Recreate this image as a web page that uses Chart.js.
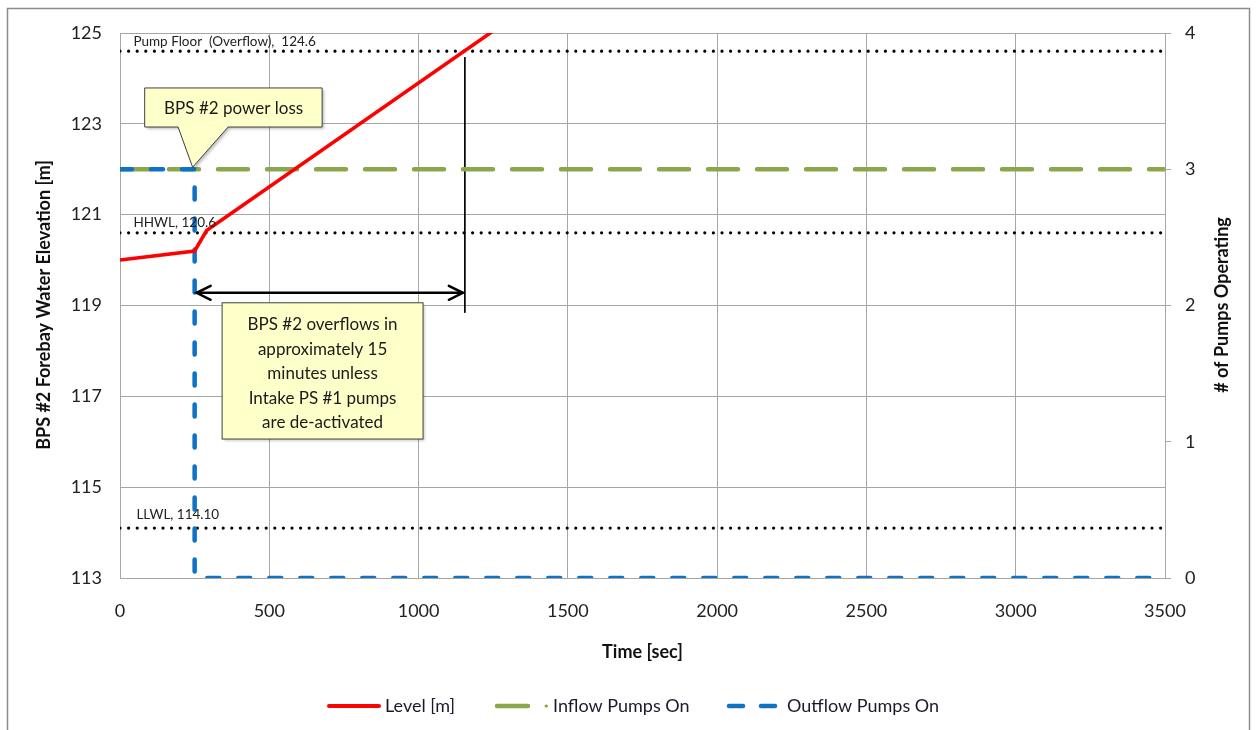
<!DOCTYPE html>
<html>
<head>
<meta charset="utf-8">
<script src="https://cdn.jsdelivr.net/npm/chart.js@4"></script>
<style>
  html, body { margin: 0; padding: 0; background: #fff; }
  #wrap { width: 1257px; height: 730px; position: relative; }
</style>
</head>
<body>
<div id="wrap"><canvas id="pumps"></canvas></div>
<script>
// valeurs
const levelTime = [0, 250, 290, 1240, 1300];
const levelElev = [120.0, 120.2, 120.65, 125.0, 125.27];
const inflowTime = [0, 3500];
const inflowPumps = [3, 3];
const outflowTime = [0, 250, 250, 3500];
const outflowPumps = [3, 3, 0, 0];
const refNames = ['Pump Floor  (Overflow),  124.6', 'HHWL, 120.6', 'LLWL, 114.10'];
const refLevels = [124.6, 120.6, 114.1];
const powerLossTime = 250;
const overflowTime = 1155;
const arrowLevel = 119.28;
const seriesNames = ['Level [m]', 'Inflow Pumps On', 'Outflow Pumps On'];

const FONT = 'Lato, "Noto Sans", sans-serif';
const pts = (xs, ys) => xs.map((x, i) => ({ x: x, y: ys[i] }));

const datasets = [
    {
        label: seriesNames[0],
        data: pts(levelTime, levelElev),
        borderColor: '#ff0000',
        borderWidth: 3.5,
        yAxisID: 'y',
        order: 1
    },
    {
        label: seriesNames[1],
        data: pts(inflowTime, inflowPumps),
        borderColor: '#8aa84b',
        borderWidth: 4.5,
        borderDash: [30, 19],
        borderCapStyle: 'round',
        yAxisID: 'y2',
        order: 3
    },
    {
        label: seriesNames[2],
        data: pts(outflowTime, outflowPumps),
        borderColor: '#0f72c4',
        borderWidth: 4.5,
        borderDash: [12, 19],
        borderCapStyle: 'round',
        yAxisID: 'y2',
        order: 2
    }
];

// lignes de référence pointillées
refLevels.forEach((lv, i) => {
    datasets.push({
        label: refNames[i],
        data: pts([0, 3500], [lv, lv]),
        borderColor: '#000',
        borderWidth: 3.2,
        borderDash: [0, 8.6],
        borderCapStyle: 'round',
        yAxisID: 'y',
        order: 5
    });
});

// trait vertical au débordement + flèche horizontale
datasets.push({
    label: 'overflow mark',
    data: pts([overflowTime, overflowTime], [124.47, 118.84]),
    borderColor: '#000',
    borderWidth: 1,
    yAxisID: 'y',
    order: 4
});
datasets.push({
    label: 'arrow',
    data: pts([powerLossTime + 5, overflowTime - 5], [arrowLevel, arrowLevel]),
    borderColor: '#000',
    borderWidth: 2.5,
    yAxisID: 'y',
    order: 4
});

const extras = {
    id: 'extras',
    beforeDraw(chart) {
        const c = chart.ctx;
        c.save();
        c.fillStyle = '#fff';
        c.fillRect(0, 0, chart.width, chart.height);
        c.restore();
    },
    afterDatasetsDraw(chart) {
        const c = chart.ctx;
        const xs = chart.scales.x, ys = chart.scales.y, y2 = chart.scales.y2;
        c.save();

        // étiquettes des lignes de référence
        c.font = '13.5px ' + FONT;
        c.fillStyle = '#222';
        c.textBaseline = 'middle';
        const labelX = [45, 45, 55];
        const labelDy = [-10, -10, -13];
        refLevels.forEach((lv, i) => {
            c.fillText(refNames[i], xs.getPixelForValue(labelX[i]), ys.getPixelForValue(lv) + labelDy[i]);
        });

        // têtes de flèche
        const ay = ys.getPixelForValue(arrowLevel);
        const ax1 = xs.getPixelForValue(powerLossTime) + 2;
        const ax2 = xs.getPixelForValue(overflowTime) - 2;
        c.strokeStyle = '#000';
        c.lineWidth = 2.5;
        c.lineCap = 'round';
        c.beginPath();
        c.moveTo(ax1 + 14, ay - 7); c.lineTo(ax1, ay); c.lineTo(ax1 + 14, ay + 7);
        c.moveTo(ax2 - 14, ay - 7); c.lineTo(ax2, ay); c.lineTo(ax2 - 14, ay + 7);
        c.stroke();

        // bulle "power loss"
        const tipX = xs.getPixelForValue(powerLossTime), tipY = y2.getPixelForValue(3);
        const b1 = {
            l: xs.getPixelForValue(84), r: xs.getPixelForValue(677),
            t: ys.getPixelForValue(123.79), b: ys.getPixelForValue(122.93)
        };
        c.shadowColor = 'rgba(0,0,0,0.25)';
        c.shadowOffsetX = 2; c.shadowOffsetY = 2; c.shadowBlur = 3;
        c.fillStyle = '#ffffc9';
        c.strokeStyle = '#404040';
        c.lineWidth = 1;
        c.beginPath();
        c.moveTo(b1.l, b1.t); c.lineTo(b1.r, b1.t); c.lineTo(b1.r, b1.b);
        c.lineTo(b1.l + 83, b1.b); c.lineTo(tipX - 2, tipY - 2); c.lineTo(b1.l + 33, b1.b);
        c.lineTo(b1.l, b1.b); c.closePath();
        c.fill();
        c.shadowColor = 'transparent';
        c.stroke();
        c.fillStyle = '#1a1a1a';
        c.font = '17px ' + FONT;
        c.textAlign = 'center';
        c.fillText('BPS #2 power loss', (b1.l + b1.r) / 2, (b1.t + b1.b) / 2 + 1);

        // bulle texte débordement
        const b2 = {
            l: xs.getPixelForValue(342), r: xs.getPixelForValue(1015),
            t: ys.getPixelForValue(119.06), b: ys.getPixelForValue(116.06)
        };
        c.shadowColor = 'rgba(0,0,0,0.25)';
        c.fillStyle = '#ffffc9';
        c.fillRect(b2.l, b2.t, b2.r - b2.l, b2.b - b2.t);
        c.shadowColor = 'transparent';
        c.strokeRect(b2.l, b2.t, b2.r - b2.l, b2.b - b2.t);
        c.fillStyle = '#1a1a1a';
        const lines = ['BPS #2 overflows in', 'approximately 15', 'minutes unless', 'Intake PS #1 pumps', 'are de-activated'];
        lines.forEach((t, i) => c.fillText(t, (b2.l + b2.r) / 2, b2.t + 22 + i * 24.5));
        c.restore();
    },
    afterDraw(chart) {
        const c = chart.ctx;
        c.save();
        // titres des axes verticaux
        c.font = 'bold 18px ' + FONT;
        c.fillStyle = '#111';
        c.textAlign = 'center';
        c.textBaseline = 'middle';
        c.translate(44, 305); c.rotate(-Math.PI / 2);
        c.fillText('BPS #2 Forebay Water Elevation [m]', 0, 0);
        c.setTransform(1, 0, 0, 1, 0, 0);
        c.translate(1222, 305); c.rotate(-Math.PI / 2);
        c.fillText('# of Pumps Operating', 0, 0);
        c.setTransform(1, 0, 0, 1, 0, 0);

        // légende
        const ly = 706;
        c.font = '18px ' + FONT;
        c.textAlign = 'left';
        c.fillStyle = '#1a1a2a';
        const ds = chart.data.datasets;
        c.lineCap = 'round';
        c.strokeStyle = ds[0].borderColor; c.lineWidth = 4;
        c.beginPath(); c.moveTo(329, ly); c.lineTo(379, ly); c.stroke();
        c.fillText(seriesNames[0], 385, ly);
        c.strokeStyle = ds[1].borderColor; c.lineWidth = 4.5;
        c.beginPath(); c.moveTo(497, ly); c.lineTo(528, ly); c.stroke();
        c.beginPath(); c.moveTo(546, ly); c.lineTo(546.5, ly); c.lineWidth = 3; c.stroke();
        c.fillText(seriesNames[1], 553, ly);
        c.strokeStyle = ds[2].borderColor; c.lineWidth = 4.5;
        c.beginPath(); c.moveTo(729, ly); c.lineTo(743, ly); c.moveTo(761, ly); c.lineTo(775, ly); c.stroke();
        c.fillText(seriesNames[2], 787, ly);

        // cadre extérieur
        c.strokeStyle = '#8c8c8c';
        c.lineWidth = 1.5;
        c.strokeRect(7.5, 8.5, 1242, 740);
        c.restore();
    }
};

const gridCol = '#a6a6a6';
const tickFont = { family: FONT, size: 18 };

new Chart(document.getElementById('pumps'), {
    type: 'line',
    data: { datasets: datasets },
    options: {
        responsive: true,
        maintainAspectRatio: false,
        animation: false,
        elements: { point: { radius: 0, hoverRadius: 0 }, line: { tension: 0, fill: false } },
        layout: { padding: { left: 0, right: 0, top: 33, bottom: 63 } },
        scales: {
            x: {
                type: 'linear',
                min: 0, max: 3500,
                afterFit(s) { s.height = 89; },
                ticks: {
                    stepSize: 500, color: '#222', font: tickFont, padding: 22, maxRotation: 0,
                    callback: v => String(v)
                },
                grid: { color: gridCol, drawTicks: false },
                border: { color: gridCol },
                title: {
                    display: true, text: 'Time [sec]', color: '#111',
                    font: { family: FONT, size: 18, weight: 'bold' }, padding: { top: 4, bottom: 4 }
                }
            },
            y: {
                position: 'left',
                min: 113, max: 125,
                afterFit(s) { s.width = 120; },
                ticks: { stepSize: 2, color: '#222', font: tickFont, padding: 18 },
                grid: { color: gridCol, drawTicks: false },
                border: { color: gridCol }
            },
            y2: {
                position: 'right',
                min: 0, max: 4,
                afterFit(s) { s.width = 92; },
                ticks: { stepSize: 1, color: '#222', font: tickFont, padding: 14 },
                grid: { drawOnChartArea: false, color: gridCol, tickLength: 6 },
                border: { color: gridCol }
            }
        },
        plugins: {
            legend: { display: false },
            tooltip: { enabled: false }
        }
    },
    plugins: [extras]
});
</script>
</body>
</html>
